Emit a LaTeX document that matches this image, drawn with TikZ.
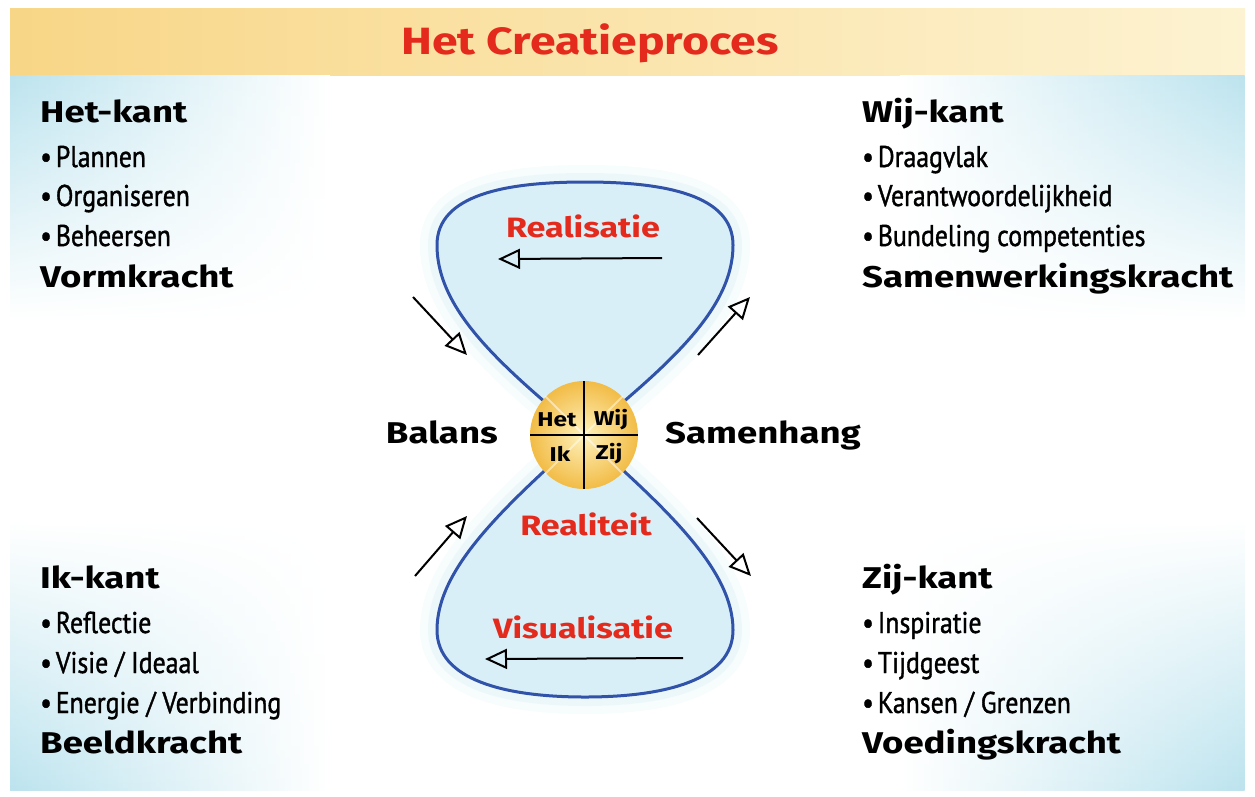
\documentclass[tikz,border=0pt]{standalone}
\usepackage{fontspec}
\setmainfont{PT Sans}[FakeStretch=0.86,FakeBold=1.2]
\newfontfamily\handfont{Fira Sans}[FakeStretch=1.22]
\usetikzlibrary{arrows.meta,fadings}
\definecolor{kopgeel}{RGB}{248,214,135}
\definecolor{kopbleek}{RGB}{253,243,210}
\definecolor{randblauw}{RGB}{188,227,238}
\definecolor{lobblauw}{RGB}{216,239,248}
\definecolor{lijnblauw}{RGB}{48,82,168}
\definecolor{roodtxt}{RGB}{228,42,28}
\definecolor{bolgeel}{RGB}{242,188,70}
\definecolor{bolwit}{RGB}{254,242,190}
\begin{document}
\begin{tikzpicture}[x=1pt,y=-1pt,
  kop/.style={font=\handfont\bfseries\fontsize{30}{30}\selectfont,anchor=base west,inner xsep=0pt},
  punt/.style={font=\fontsize{30}{30}\selectfont,anchor=base west,inner xsep=0pt},
  rood/.style={font=\handfont\bfseries\fontsize{28}{28}\selectfont,text=roodtxt,anchor=base},
  kwart/.style={font=\handfont\bfseries\fontsize{20}{20}\selectfont,inner sep=0pt},
  pijl/.style={line width=2pt,-{Triangle[open,length=22pt,width=20pt,line width=2pt]}}]
\useasboundingbox (0,0) rectangle (1255,796);
% achtergrond
\shade[left color=kopgeel,right color=kopbleek] (10,8) rectangle (1245,75);
\shade[left color=randblauw,right color=white,path fading=south] (10,75) rectangle (330,320);
\shade[left color=white,right color=randblauw,path fading=south] (900,75) rectangle (1245,320);
\shade[left color=randblauw,right color=white,path fading=north] (10,520) rectangle (330,790);
\shade[left color=white,right color=randblauw,path fading=north] (900,520) rectangle (1245,790);
\node[font=\handfont\bfseries\fontsize{38}{38}\selectfont,text=roodtxt,anchor=base] (titel) at (590,54) {Het Creatieproces};
% zandloper
\coordinate (M) at (584,435);
\def\lussen{(M) .. controls (500,365) and (437,310) .. (437,245) .. controls (437,195) and (505,182) .. (585,182)
  .. controls (665,182) and (733,195) .. (733,245) .. controls (733,310) and (668,365) .. (M)
  .. controls (500,510) and (437,570) .. (437,630) .. controls (437,680) and (505,697) .. (585,697)
  .. controls (665,697) and (733,680) .. (733,630) .. controls (733,570) and (668,510) .. (M)}
\draw[line width=34pt,randblauw,opacity=.12] \lussen;
\draw[line width=18pt,randblauw,opacity=.18] \lussen;
\fill[lobblauw] \lussen;
\draw[line width=3pt,lijnblauw] \lussen;
% bol
\shade[inner color=bolwit,outer color=bolgeel] (M) circle (54);
\draw[white,opacity=.5,line width=2pt] (545,396) -- (623,474) (623,396) -- (545,474);
\draw[line width=1.2pt] (584,381) -- (584,489) (530,435) -- (638,435);
\node[kwart] (het) at (557,420) {Het};
\node[kwart] (wij) at (611,420) {Wij};
\node[kwart] (ik) at (560,454) {Ik};
\node[kwart] (zij) at (609,454) {Zij};
\node[kop,anchor=base east] (balans) at (498,443) {Balans};
\node[kop] (samenhang) at (665,443) {Samenhang};
\node[rood] (realisatie) at (583,237) {Realisatie};
\node[rood] (realiteit) at (586,535) {Realiteit};
\node[rood] (visualisatie) at (583,638) {Visualisatie};
% pijlen
\coordinate (p1a) at (413,297); \coordinate (p1b) at (467,355);
\coordinate (p2a) at (698,355); \coordinate (p2b) at (750,297);
\coordinate (p3a) at (415,576); \coordinate (p3b) at (467,516);
\coordinate (p4a) at (697,518); \coordinate (p4b) at (751,576);
\coordinate (p5a) at (662,258); \coordinate (p5b) at (498,259);
\coordinate (p6a) at (683,658); \coordinate (p6b) at (485,659);
\draw[pijl] (p1a) -- (p1b);
\draw[pijl] (p2a) -- (p2b);
\draw[pijl] (p3a) -- (p3b);
\draw[pijl] (p4a) -- (p4b);
\draw[pijl] (p5a) -- (p5b);
\draw[pijl] (p6a) -- (p6b);
% het-kant
\node[kop] (hetkant) at (40,122) {Het-kant};
\node[punt] (plannen) at (40,167) {•\kern4pt Plannen};
\node[punt] (organiseren) at (40,206) {•\kern4pt Organiseren};
\node[punt] (beheersen) at (40,246) {•\kern4pt Beheersen};
\node[kop] (vormkracht) at (40,287) {Vormkracht};
% wij-kant
\node[kop] (wijkant) at (862,122) {Wij-kant};
\node[punt] (draagvlak) at (862,167) {•\kern4pt Draagvlak};
\node[punt] (verantw) at (862,206) {•\kern4pt Verantwoordelijkheid};
\node[punt] (bundeling) at (862,246) {•\kern4pt Bundeling competenties};
\node[kop] (samenwerking) at (862,287) {Samenwerkingskracht};
% ik-kant
\node[kop] (ikkant) at (40,588) {Ik-kant};
\node[punt] (reflectie) at (40,633) {•\kern4pt Reflectie};
\node[punt] (visie) at (40,673) {•\kern4pt Visie / Ideaal};
\node[punt] (energie) at (40,713) {•\kern4pt Energie / Verbinding};
\node[kop] (beeldkracht) at (40,753) {Beeldkracht};
% zij-kant
\node[kop] (zijkant) at (862,588) {Zij-kant};
\node[punt] (inspiratie) at (862,633) {•\kern4pt Inspiratie};
\node[punt] (tijdgeest) at (862,673) {•\kern4pt Tijdgeest};
\node[punt] (kansen) at (862,713) {•\kern4pt Kansen / Grenzen};
\node[kop] (voeding) at (862,753) {Voedingskracht};
\end{tikzpicture}
\end{document}
